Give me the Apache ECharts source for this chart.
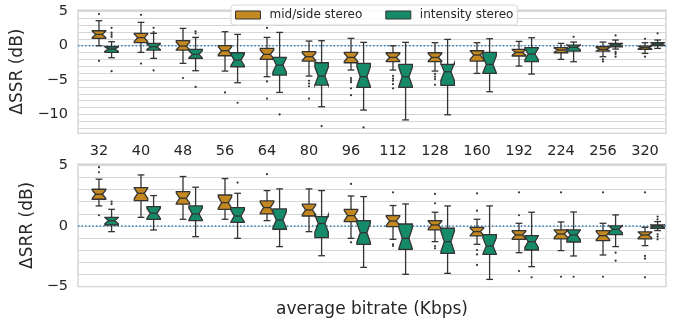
<!DOCTYPE html>
<html>
<head>
<meta charset="utf-8">
<script src="https://cdn.jsdelivr.net/npm/echarts@6/dist/echarts.min.js"></script>
<style>
html,body{margin:0;padding:0;background:#fff;}
#chart{width:678px;height:324px;}
</style>
</head>
<body>
<div id="chart"></div>
<script>
// ---------- DATA ----------
const categories = ['32','40','48','56','64','80','96','112','128','160','192','224','256','320'];
const seriesNames = ['mid/side stereo', 'intensity stereo'];

// box stats per category: [lower whisker, q1, median, q3, upper whisker]
const ssrMidSide = [
  [0.0, 1.07, 1.65, 2.18, 3.64],
  [-0.97, 0.44, 1.17, 1.80, 3.40],
  [-2.57, -0.63, -0.05, 0.73, 2.52],
  [-3.69, -1.46, -0.73, 0.0, 2.04],
  [-4.51, -1.99, -1.26, -0.39, 1.21],
  [-4.42, -2.23, -1.60, -0.87, 0.68],
  [-3.54, -2.48, -1.70, -0.97, 1.07],
  [-3.54, -2.33, -1.70, -1.02, 0.0],
  [-3.69, -2.33, -1.70, -1.02, 0.44],
  [-4.03, -2.23, -1.36, -0.73, 0.44],
  [-2.96, -1.50, -0.97, -0.53, 0.63],
  [-1.99, -1.02, -0.63, -0.29, 0.34],
  [-1.60, -0.78, -0.53, -0.15, 0.53],
  [-1.12, -0.53, -0.29, -0.05, 0.44]
];
const ssrIntensity = [
  [-1.75, -0.97, -0.49, -0.15, 0.58],
  [-1.84, -0.63, -0.15, 0.34, 1.80],
  [-3.64, -1.84, -1.26, -0.53, 1.21],
  [-5.39, -3.06, -2.09, -1.02, 1.65],
  [-6.80, -4.27, -2.82, -1.70, 1.94],
  [-8.88, -5.73, -4.42, -2.48, 0.73],
  [-9.37, -6.07, -4.51, -2.57, 0.49],
  [-10.8, -6.07, -4.51, -2.72, 0.49],
  [-10.05, -5.78, -3.79, -2.72, 0.92],
  [-6.70, -4.03, -2.72, -0.97, 1.02],
  [-4.13, -2.33, -1.21, -0.29, 1.17],
  [-2.33, -0.78, -0.24, 0.10, 0.53],
  [-0.49, -0.15, 0.10, 0.34, 0.83],
  [-0.39, 0.0, 0.24, 0.44, 0.83]
];
const srrMidSide = [
  [1.65, 2.20, 2.61, 3.02, 3.85],
  [0.71, 2.09, 2.69, 3.16, 4.20],
  [0.55, 1.79, 2.28, 2.83, 4.07],
  [0.55, 1.37, 1.92, 2.55, 3.90],
  [0.44, 0.99, 1.51, 2.06, 2.91],
  [-0.47, 0.82, 1.32, 1.79, 3.05],
  [-1.02, 0.36, 0.85, 1.37, 2.47],
  [-1.10, -0.05, 0.41, 0.85, 1.68],
  [-1.29, -0.33, 0.08, 0.44, 1.13],
  [-1.51, -0.82, -0.47, -0.11, 0.55],
  [-2.20, -1.10, -0.74, -0.38, 0.22],
  [-2.03, -1.07, -0.66, -0.33, 0.33],
  [-2.39, -1.21, -0.80, -0.38, 0.22],
  [-1.62, -1.07, -0.74, -0.49, -0.11]
];
const srrIntensity = [
  [-0.47, 0.08, 0.44, 0.71, 1.37],
  [-0.33, 0.55, 1.04, 1.59, 2.50],
  [-0.88, 0.44, 0.99, 1.65, 3.19],
  [-1.02, 0.30, 0.82, 1.51, 2.69],
  [-1.70, -0.27, 0.49, 1.40, 3.05],
  [-2.45, -0.96, 0.20, 0.77, 2.91],
  [-3.41, -1.51, -0.55, 0.44, 2.42],
  [-3.98, -1.92, -1.02, 0.16, 1.81],
  [-3.90, -2.25, -1.29, -0.19, 1.65],
  [-4.40, -2.34, -1.65, -0.71, 1.65],
  [-3.35, -1.98, -1.29, -0.80, 1.13],
  [-2.47, -1.32, -0.74, -0.33, 1.15],
  [-1.70, -0.71, -0.27, 0.0, 0.91],
  [-0.38, -0.19, 0.0, 0.08, 0.36]
];

// outliers per category
const ssrMidSideOutliers = [
  [4.6, -2.2], [4.5, -2.6], [-4.7], [-6.8], [2.6, -5.2, -7.7], [-5.1, -5.5, -5.9, -7.7],
  [-4.7, -5.0, -5.3, -6.2, -7.2], [-4.4, -4.8, -5.1, -5.6, -6.2], [-4.1, -4.5, -4.85, -5.7],
  [], [], [], [-2.0, -2.3], [1.0, -1.6]
];
const ssrIntensityOutliers = [
  [2.6, 1.9, 1.6, 1.3, -3.7], [2.6, 2.0, -3.6], [2.1, 1.8, -6.0], [-8.3], [-10.0], [-11.7],
  [-11.9], [], [], [], [], [1.3], [1.5, -0.9, -1.2, -1.6], [1.8]
];
const srrMidSideOutliers = [
  [4.84, 4.42, 0.88], [], [], [], [4.26], [], [3.46, -1.35], [2.77, -1.51, -1.65],
  [2.64, 1.87, -1.65, -1.84], [2.69, 1.26, -1.98, -2.34, -3.21], [2.77, 0.88, -3.71],
  [2.77, -4.18], [2.77, -4.18], [2.77, -2.47, -2.69, -4.23]
];
const srrIntensityOutliers = [
  [2.0, 1.8], [], [], [3.57], [], [], [], [], [], [], [-4.23], [-4.18], [-2.20, -2.86],
  [0.77, 0.55, -0.69, -0.88, -1.10]
];

const ssrRange = [-12.75, 5.2];
const srrRange = [-5, 5.1];
const ZERO_LINE = 0;
const NOTCH_N = 15;   // sample size used for notch (median ± 1.57·IQR/√n)

// ---------- STYLE ----------
const FONT = 'DejaVu Sans';
const TEXT = '#262626';
const LINE = '#333333';
const COLORS = ['#C38820', '#168B6A'];
const OFFSETS = [0, 0.3];      // hue offsets in category units
const BOX_W = 0.32;            // box width in category units

function boxRender(offset, color) {
  return function (params, api) {
    const x = api.value(0);
    const bw = api.size([1, 0])[0];
    const cx = api.coord([x, 0])[0] + offset * bw;
    const w = BOX_W * bw;
    const wl = api.value(1), q1 = api.value(2), med = api.value(3), q3 = api.value(4), wh = api.value(5);
    const ci = 1.57 * (q3 - q1) / Math.sqrt(NOTCH_N);
    const lo = med - ci, hi = med + ci;
    const y = v => api.coord([x, v])[1];
    const L = cx - w / 2, R = cx + w / 2, nL = cx - w / 4, nR = cx + w / 4;
    const pts = [[L, y(q1)], [R, y(q1)], [R, y(lo)], [nR, y(med)], [R, y(hi)], [R, y(q3)],
                 [L, y(q3)], [L, y(hi)], [nL, y(med)], [L, y(lo)]];
    const ls = { stroke: LINE, lineWidth: 1.3 };
    return {
      type: 'group',
      children: [
        { type: 'line', shape: { x1: cx, y1: y(q1), x2: cx, y2: y(wl) }, style: ls },
        { type: 'line', shape: { x1: cx, y1: y(q3), x2: cx, y2: y(wh) }, style: ls },
        { type: 'line', shape: { x1: nL, y1: y(wl), x2: nR, y2: y(wl) }, style: ls },
        { type: 'line', shape: { x1: nL, y1: y(wh), x2: nR, y2: y(wh) }, style: ls },
        { type: 'polygon', shape: { points: pts }, style: { fill: color, stroke: LINE, lineWidth: 1.3, lineJoin: 'miter' } },
        { type: 'line', shape: { x1: nL, y1: y(med), x2: nR, y2: y(med) }, style: ls }
      ]
    };
  };
}
function outlierRender(offset) {
  return function (params, api) {
    const x = api.value(0);
    const bw = api.size([1, 0])[0];
    const p = api.coord([x, api.value(1)]);
    return { type: 'circle', shape: { cx: p[0] + offset * bw, cy: p[1], r: 1.1 }, style: { fill: LINE } };
  };
}
function zeroRender(params, api) {
  const y = api.coord([0, api.value(1)])[1];
  const cs = params.coordSys;
  return { type: 'line', shape: { x1: cs.x, y1: y, x2: cs.x + cs.width, y2: y },
           style: { stroke: '#2c7bb6', lineWidth: 1.4, lineDash: [1.4, 2.2] } };
}

function boxData(arr) { return arr.map((s, i) => [i].concat(s)); }
function outData(arr) { const d = []; arr.forEach((vals, i) => vals.forEach(v => d.push([i, v]))); return d; }

function fmtY(v) {
  if (Math.abs(v - Math.round(v / 5) * 5) > 1e-6) return '';
  const r = Math.round(v);
  return r < 0 ? '\u2212' + Math.abs(r) : String(r);
}

const panels = [
  { box: [ssrMidSide, ssrIntensity], out: [ssrMidSideOutliers, ssrIntensityOutliers] },
  { box: [srrMidSide, srrIntensity], out: [srrMidSideOutliers, srrIntensityOutliers] }
];

const series = [];
panels.forEach((p, gi) => {
  series.push({ type: 'custom', name: 'zero' + gi, xAxisIndex: gi, yAxisIndex: gi, silent: true, z: 1,
    data: [[0, ZERO_LINE]], renderItem: zeroRender });
  [0, 1].forEach(h => {
    series.push({ type: 'custom', name: seriesNames[h], xAxisIndex: gi, yAxisIndex: gi, z: 3,
      itemStyle: { color: COLORS[h], borderColor: LINE, borderWidth: 1 },
      encode: { x: 0, y: [1, 2, 3, 4, 5] },
      data: boxData(p.box[h]), renderItem: boxRender(OFFSETS[h], COLORS[h]) });
    series.push({ type: 'custom', name: seriesNames[h] + ' outliers ' + gi, xAxisIndex: gi, yAxisIndex: gi, z: 3,
      encode: { x: 0, y: 1 }, silent: true,
      data: outData(p.out[h]), renderItem: outlierRender(OFFSETS[h]) });
  });
});

const axisLabelStyle = { fontFamily: FONT, fontSize: 14.5, color: TEXT };
const nameStyle = { fontFamily: FONT, fontSize: 17, color: TEXT };
const gridLine = { show: true, lineStyle: { color: '#d6d6d6', width: 1 } };

const option = {
  animation: false,
  backgroundColor: '#ffffff',
  textStyle: { fontFamily: FONT },
  legend: {
    data: seriesNames.map((n, i) => ({ name: n, itemStyle: { color: COLORS[i], borderColor: LINE, borderWidth: 1 } })),
    icon: 'rect', left: 231, top: 5, itemWidth: 25, itemHeight: 8, itemGap: 23,
    padding: [4, 4, 4, 4], selectedMode: false,
    backgroundColor: 'rgba(255,255,255,0.85)', borderColor: '#d8d8d8', borderWidth: 1, borderRadius: 3,
    textStyle: { fontFamily: FONT, fontSize: 12, color: TEXT, padding: [0, 0, 0, 4] }
  },
  grid: [
    { left: 78, top: 10, width: 588, height: 123.3, show: true, borderColor: '#cccccc', borderWidth: 1.2, backgroundColor: '#fff' },
    { left: 78, top: 164, width: 588, height: 122.7, show: true, borderColor: '#cccccc', borderWidth: 1.2, backgroundColor: '#fff' }
  ],
  xAxis: [
    { gridIndex: 0, type: 'category', data: categories, boundaryGap: true,
      axisTick: { show: false }, axisLine: { show: false }, splitLine: { show: false },
      axisLabel: Object.assign({ margin: 10, interval: 0 }, axisLabelStyle) },
    { gridIndex: 1, type: 'category', data: categories, boundaryGap: true,
      axisTick: { show: false }, axisLine: { show: false }, splitLine: { show: false },
      axisLabel: { show: false },
      name: 'average bitrate (Kbps)', nameLocation: 'middle', nameGap: 14, nameTextStyle: nameStyle }
  ],
  yAxis: [
    { gridIndex: 0, type: 'value', min: ssrRange[0], max: ssrRange[1], splitNumber: 18,
      axisLine: { show: false }, axisTick: { show: false }, splitLine: gridLine,
      axisLabel: Object.assign({ margin: 10, formatter: fmtY }, axisLabelStyle),
      name: '\u0394SSR (dB)', nameLocation: 'middle', nameGap: 37, nameRotate: 90, nameTextStyle: nameStyle },
    { gridIndex: 1, type: 'value', min: srrRange[0], max: srrRange[1], interval: 1,
      axisLine: { show: false }, axisTick: { show: false }, splitLine: gridLine,
      axisLabel: Object.assign({ margin: 10, formatter: fmtY }, axisLabelStyle),
      name: '\u0394SRR (dB)', nameLocation: 'middle', nameGap: 37, nameRotate: 90, nameTextStyle: nameStyle }
  ],
  series: series
};

const chart = echarts.init(document.getElementById('chart'), null, { renderer: 'canvas' });
chart.setOption(option);
</script>
</body>
</html>
